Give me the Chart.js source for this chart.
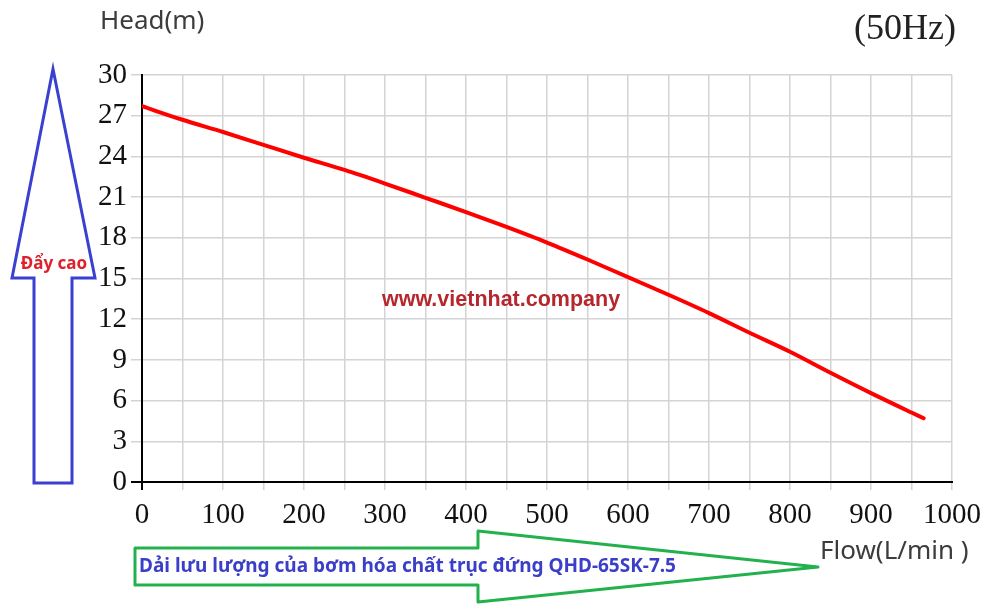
<!DOCTYPE html>
<html>
<head>
<meta charset="utf-8">
<script src="https://cdn.jsdelivr.net/npm/chart.js@4"></script>
<style>
  body { margin: 0; background: #fff; }
  canvas { display: block; }
</style>
</head>
<body>
<canvas id="pumpChart" width="1000" height="604"></canvas>
<script>
// pump curve QHD-65SK-7.5 (50Hz)
const flowValues = [0, 50, 100, 150, 200, 250, 300, 350, 400, 450, 500, 550, 600, 650, 700, 750, 800, 850, 900, 950, 965];
const headValues = [27.7, 26.7, 25.8, 24.85, 23.9, 23.0, 22.0, 20.95, 19.9, 18.8, 17.65, 16.4, 15.1, 13.8, 12.45, 11.0, 9.6, 8.05, 6.55, 5.12, 4.7];
const xTickLabels = ['0', '100', '200', '300', '400', '500', '600', '700', '800', '900', '1000'];
const yTickLabels = ['0', '3', '6', '9', '12', '15', '18', '21', '24', '27', '30'];

const serif = '"Liberation Serif", "DejaVu Serif", serif';
const sans = '"Noto Sans", "Open Sans", sans-serif';

// vẽ chữ + mũi tên trang trí
const decorPlugin = {
    id: 'decor',
    afterDraw(chart) {
        const c = chart.ctx;
        c.save();

        // tiêu đề trục
        c.fillStyle = '#3c3c3c';
        c.font = '26px ' + sans;
        c.textBaseline = 'middle';
        c.textAlign = 'left';
        c.fillText('Head(m)', 100, 22);
        c.fillText('Flow(L/min )', 820, 552);
        c.fillStyle = '#222';
        c.font = '36px ' + serif;
        c.fillText('(50Hz)', 854, 30);

        // watermark
        c.fillStyle = '#b5272d';
        c.font = 'bold 21.5px "Liberation Sans", Arial, sans-serif';
        c.fillText('www.vietnhat.company', 382, 300);

        // mũi tên xanh dương (đẩy cao)
        c.lineJoin = 'miter';
        c.lineWidth = 3;
        c.strokeStyle = '#3a40d0';
        c.beginPath();
        c.moveTo(53, 69);
        c.lineTo(95, 278);
        c.lineTo(72, 278);
        c.lineTo(72, 483);
        c.lineTo(34, 483);
        c.lineTo(34, 278);
        c.lineTo(12, 278);
        c.closePath();
        c.stroke();
        c.fillStyle = '#e0202a';
        c.font = 'bold 17px ' + sans;
        c.textAlign = 'center';
        c.fillText('Đẩy cao', 54, 264);

        // mũi tên xanh lá (dải lưu lượng)
        c.strokeStyle = '#22b14c';
        c.lineJoin = 'round';
        c.beginPath();
        c.moveTo(135, 548);
        c.lineTo(478, 548);
        c.lineTo(478, 531);
        c.lineTo(818, 567);
        c.lineTo(478, 602);
        c.lineTo(478, 585);
        c.lineTo(135, 585);
        c.closePath();
        c.stroke();
        c.fillStyle = '#3b3fc8';
        c.font = 'bold 19px ' + sans;
        c.textAlign = 'left';
        c.fillText('Dải lưu lượng của bơm hóa chất trục đứng QHD-65SK-7.5', 139, 567);

        c.restore();
    }
};

const ctx = document.getElementById('pumpChart').getContext('2d');
const pumpChart = new Chart(ctx, {
    type: 'line',
    data: {
        datasets: [{
            label: 'Head',
            data: flowValues.map((f, i) => ({ x: f, y: headValues[i] })),
            borderColor: '#ff0000',
            borderWidth: 4,
            borderCapStyle: 'round',
            pointRadius: 0,
            cubicInterpolationMode: 'monotone',
            fill: false
        }]
    },
    options: {
        responsive: false,
        animation: false,
        layout: { padding: { left: 0, top: 75, right: 48, bottom: 0 } },
        plugins: {
            legend: { display: false },
            tooltip: { enabled: false }
        },
        scales: {
            x: {
                type: 'linear',
                min: 0,
                max: 1000,
                afterFit: (s) => { s.height = 122; },
                border: { color: '#000', width: 2 },
                grid: {
                    color: (g) => g.tick && g.tick.value === 0 ? '#000' : '#d4d4d4',
                    lineWidth: (g) => g.tick && g.tick.value === 0 ? 2 : 1.5,
                    tickLength: 8
                },
                ticks: {
                    stepSize: 50,
                    autoSkip: false,
                    maxRotation: 0,
                    padding: 8,
                    color: '#111',
                    font: { family: serif, size: 29 },
                    callback: (v) => v % 100 === 0 ? xTickLabels[v / 100] : ''
                }
            },
            y: {
                min: 0,
                max: 30,
                afterFit: (s) => { s.width = 142; },
                border: { color: '#000', width: 2 },
                grid: {
                    color: (g) => g.tick && g.tick.value === 0 ? '#000' : '#d4d4d4',
                    lineWidth: (g) => g.tick && g.tick.value === 0 ? 2 : 1.5,
                    tickLength: 11
                },
                ticks: {
                    stepSize: 3,
                    padding: 4,
                    color: '#111',
                    font: { family: serif, size: 29 },
                    callback: (v) => yTickLabels[v / 3]
                }
            }
        }
    },
    plugins: [decorPlugin]
});
</script>
</body>
</html>
